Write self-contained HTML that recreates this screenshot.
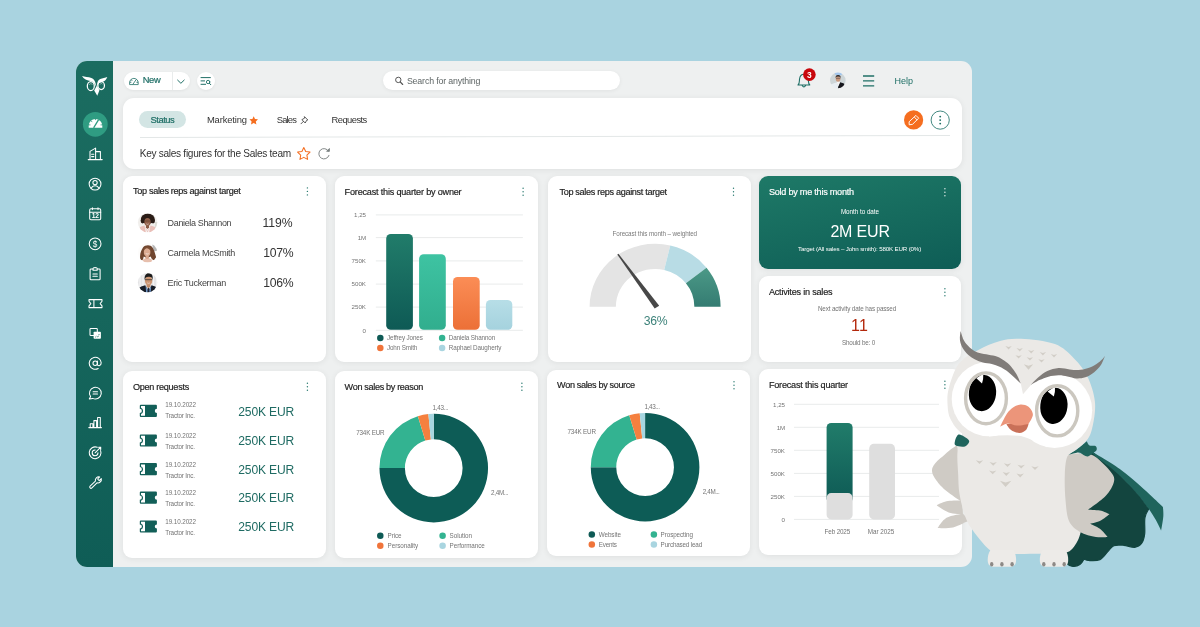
<!DOCTYPE html>
<html>
<head>
<meta charset="utf-8">
<title>Dashboard</title>
<style>
*{box-sizing:border-box;margin:0;padding:0}
html,body{width:1200px;height:627px;overflow:hidden;font-family:"Liberation Sans",sans-serif}
body{background:#a9d3e0;font-family:"Liberation Sans",sans-serif;position:relative;color:#2b2b2b}
.abs{position:absolute}
#app{will-change:transform;position:absolute;left:76px;top:61px;width:895.5px;height:506px;background:#eef0f0;border-radius:11px;overflow:hidden}
#side{position:absolute;left:0;top:0;width:37px;height:506px;background:linear-gradient(180deg,#1b6c60 0%,#16665c 50%,#0f5d56 100%)}
.card{position:absolute;background:#fff;border-radius:9px;box-shadow:0 1px 6px rgba(0,0,0,.07)}
.ct{position:absolute;font-size:9.1px;color:#222;-webkit-text-stroke:.18px currentColor;white-space:nowrap;line-height:1}
.kebab{position:absolute;width:2px;height:8px}
.kebab i{position:absolute;left:0;width:1.4px;height:1.4px;border-radius:50%;background:#2a7a70}
.kebab i:nth-child(1){top:0}.kebab i:nth-child(2){top:3px}.kebab i:nth-child(3){top:6px}
.t{position:absolute;white-space:nowrap;line-height:1}
</style>
</head>
<body>
<div id="app">
  <div id="side"></div>

  <!-- top bar -->
  <div id="topbar">
    <div class="abs" style="left:47.5px;top:10.8px;width:66.5px;height:18.7px;background:#fff;border-radius:9.5px;box-shadow:0 1px 3px rgba(0,0,0,.06)"></div>
    <div class="abs" style="left:95.6px;top:10.8px;width:1px;height:18.7px;background:#e9ecec"></div>
    <div class="t" id="tnew" style="left:66.75px;top:15.31px;font-size:9.3px;-webkit-text-stroke:.2px #1f6f66;color:#1f6f66;letter-spacing:-0.37px">New</div>
    <div class="abs" style="left:121px;top:11px;width:18.2px;height:18.2px;background:#fff;border-radius:50%;box-shadow:0 1px 3px rgba(0,0,0,.06)"></div>
    <div class="abs" style="left:306.7px;top:9.9px;width:237.3px;height:19.1px;background:#fff;border-radius:10px;box-shadow:0 1px 4px rgba(0,0,0,.06)"></div>
    <div class="t" id="tsearch" style="left:330.91px;top:15.71px;font-size:8.8px;color:#5f6666;letter-spacing:-0.15px">Search for anything</div>
    <div class="t" id="thelp" style="left:818.61px;top:16.21px;font-size:9px;color:#1f6f66;letter-spacing:-0.03px">Help</div>
  </div>

  <!-- header card : page (123,97.5)-(962,168) -->
  <div class="card" id="hdr" style="left:47px;top:36.5px;width:839px;height:71px;border-radius:11px">
    <div class="abs" style="left:15.8px;top:13.8px;width:47.6px;height:17.1px;border-radius:9px;background:#d3e5e4"></div>
    <div class="t" id="tstatus" style="-webkit-text-stroke:.2px #1f6f66;left:27.61px;top:17.61px;font-size:9.4px;color:#1f6f66;letter-spacing:-0.5px">Status</div>
    <div class="t" id="tmkt" style="left:83.91px;top:17.61px;font-size:9.4px;color:#333;letter-spacing:-0.13px">Marketing</div>
    <div class="t" id="tsales" style="left:153.71px;top:17.61px;font-size:9.4px;color:#333;letter-spacing:-0.83px">Sales</div>
    <div class="t" id="treq" style="left:208.5px;top:17.61px;font-size:9.4px;color:#333;letter-spacing:-0.55px">Requests</div>
    <div class="abs" style="left:17px;top:39.4px;width:810px;height:1px;background:#e3e7e7;transform-origin:0 0;transform:rotate(-.134deg)"></div>
    <div class="t" id="tkey" style="left:16.71px;top:51.66px;font-size:10.1px;color:#333;letter-spacing:-0.29px">Key sales figures for the Sales team</div>
  </div>

  <!-- row 1 -->
  <div class="card" id="c1" style="left:47px;top:114.5px;width:203px;height:186.5px"><div class="ct" id="tc1" style="left:9.91px;top:11.5px;letter-spacing:-0.3px">Top sales reps against target</div></div>
  <div class="card" id="c2" style="left:258.5px;top:114.5px;width:203.5px;height:186.5px"><div class="ct" id="tc2" style="left:10.11px;top:12px;letter-spacing:-0.2px">Forecast this quarter by owner</div></div>
  <div class="card" id="c3" style="left:471.5px;top:114.5px;width:203px;height:186.5px"><div class="ct" id="tc3" style="left:11.91px;top:12px;letter-spacing:-0.31px">Top sales reps against target</div></div>
  <div class="card" id="c4" style="left:683px;top:114.5px;width:202.2px;height:93px;background:linear-gradient(168deg,#1e7967 0%,#166b5e 50%,#0e5d56 100%)"><div class="ct" id="tc4" style="color:#fff;left:9.91px;top:12.91px;letter-spacing:-0.24px">Sold by me this month</div></div>
  <div class="card" id="c5" style="left:683px;top:215px;width:202.2px;height:86px"><div class="ct" id="tc5" style="left:9.91px;top:12.41px;letter-spacing:-0.21px">Activites in sales</div></div>

  <!-- row 2 -->
  <div class="card" id="c6" style="left:47px;top:310px;width:203px;height:186.5px"><div class="ct" id="tc6" style="left:9.91px;top:12.41px;letter-spacing:-0.28px">Open requests</div></div>
  <div class="card" id="c7" style="left:258.5px;top:310px;width:203.5px;height:186.5px"><div class="ct" id="tc7" style="left:10.11px;top:11.5px;letter-spacing:-0.34px">Won sales by reason</div></div>
  <div class="card" id="c8" style="left:471px;top:308.5px;width:203.4px;height:186.3px"><div class="ct" id="tc8" style="left:10.11px;top:11.91px;letter-spacing:-0.35px">Won sales by source</div></div>
  <div class="card" id="c9" style="left:683px;top:307.7px;width:202.5px;height:186.7px"><div class="ct" id="tc9" style="left:9.91px;top:11.83px;letter-spacing:-0.21px">Forecast this quarter</div></div>
</div>

<!-- charts (page coords) -->
<svg id="charts" class="abs" style="left:0;top:0" width="1200" height="627" viewBox="0 0 1200 627" fill="none">
<defs>
<linearGradient id="gd" x1="0" y1="0" x2="0" y2="1"><stop offset="0" stop-color="#217c6a"/><stop offset="1" stop-color="#0e5a55"/></linearGradient>
<linearGradient id="gt" x1="0" y1="0" x2="0" y2="1"><stop offset="0" stop-color="#3ec3a2"/><stop offset="1" stop-color="#31ae8e"/></linearGradient>
<linearGradient id="go" x1="0" y1="0" x2="0" y2="1"><stop offset="0" stop-color="#fb8d56"/><stop offset="1" stop-color="#ec7037"/></linearGradient>
<linearGradient id="gb" x1="0" y1="0" x2="0" y2="1"><stop offset="0" stop-color="#b7dee7"/><stop offset="1" stop-color="#a5d2de"/></linearGradient>
<linearGradient id="gg" x1="0" y1="0" x2="0" y2="1"><stop offset="0" stop-color="#4c9987"/><stop offset="1" stop-color="#347c72"/></linearGradient>
</defs>
<g stroke="#e9ebeb" stroke-width="1"><path d="M375.8 214.9 H522.9"/><path d="M375.8 237.6 H522.9"/><path d="M375.8 260.9 H522.9"/><path d="M375.8 284.1 H522.9"/><path d="M375.8 307.1 H522.9"/><path d="M375.8 330.3 H522.9"/></g>
<rect x="386.2" y="233.9" width="26.7" height="95.9" rx="4.6" fill="url(#gd)"/><rect x="419.1" y="254.2" width="26.7" height="75.6" rx="4.6" fill="url(#gt)"/><rect x="453.0" y="276.9" width="26.7" height="52.9" rx="4.6" fill="url(#go)"/><rect x="485.9" y="299.9" width="26.4" height="29.9" rx="4.6" fill="url(#gb)"/>
<circle cx="380.3" cy="338.0" r="3.25" fill="#0e5a55"/><circle cx="380.3" cy="347.9" r="3.25" fill="#f0743a"/><circle cx="442.1" cy="338.0" r="3.25" fill="#33b391"/><circle cx="442.1" cy="347.9" r="3.25" fill="#a9d5e0"/>
<path d="M589.60 306.70 A65.50 63.01 0 0 1 670.28 245.40 L664.20 269.97 A39.25 37.76 0 0 0 615.85 306.70 Z" fill="#e4e4e4"/><path d="M670.28 245.40 A65.50 63.01 0 0 1 706.50 267.65 L685.90 283.30 A39.25 37.76 0 0 0 664.20 269.97 Z" fill="#b8dce5"/><path d="M706.50 267.65 A65.50 63.01 0 0 1 720.60 306.70 L694.35 306.70 A39.25 37.76 0 0 0 685.90 283.30 Z" fill="url(#gg)"/><path d="M617.3 254.4 L618.4 253.7 L659.2 305.8 L654.7 308.6 Z" fill="#484848"/>
<path d="M140.80 404.80 H155.90 a1 1 0 0 1 1 1 V408.80 a2.1 2.1 0 0 0 0 4.20 V416.00 a1 1 0 0 1 -1 1 H140.80 a1 1 0 0 1 -1 -1 V413.00 a2.1 2.1 0 0 0 0 -4.20 V405.80 a1 1 0 0 1 1 -1Z" fill="#125f58"/><path d="M141.00 406.10 H145.00 V415.70 H141.00 V413.97 A3.3 3.3 0 0 0 141.00 407.83Z" fill="#fff"/><path d="M140.80 434.40 H155.90 a1 1 0 0 1 1 1 V438.40 a2.1 2.1 0 0 0 0 4.20 V445.60 a1 1 0 0 1 -1 1 H140.80 a1 1 0 0 1 -1 -1 V442.60 a2.1 2.1 0 0 0 0 -4.20 V435.40 a1 1 0 0 1 1 -1Z" fill="#125f58"/><path d="M141.00 435.70 H145.00 V445.30 H141.00 V443.57 A3.3 3.3 0 0 0 141.00 437.43Z" fill="#fff"/><path d="M140.80 463.10 H155.90 a1 1 0 0 1 1 1 V467.10 a2.1 2.1 0 0 0 0 4.20 V474.30 a1 1 0 0 1 -1 1 H140.80 a1 1 0 0 1 -1 -1 V471.30 a2.1 2.1 0 0 0 0 -4.20 V464.10 a1 1 0 0 1 1 -1Z" fill="#125f58"/><path d="M141.00 464.40 H145.00 V474.00 H141.00 V472.27 A3.3 3.3 0 0 0 141.00 466.13Z" fill="#fff"/><path d="M140.80 491.60 H155.90 a1 1 0 0 1 1 1 V495.60 a2.1 2.1 0 0 0 0 4.20 V502.80 a1 1 0 0 1 -1 1 H140.80 a1 1 0 0 1 -1 -1 V499.80 a2.1 2.1 0 0 0 0 -4.20 V492.60 a1 1 0 0 1 1 -1Z" fill="#125f58"/><path d="M141.00 492.90 H145.00 V502.50 H141.00 V500.77 A3.3 3.3 0 0 0 141.00 494.63Z" fill="#fff"/><path d="M140.80 520.40 H155.90 a1 1 0 0 1 1 1 V524.40 a2.1 2.1 0 0 0 0 4.20 V531.60 a1 1 0 0 1 -1 1 H140.80 a1 1 0 0 1 -1 -1 V528.60 a2.1 2.1 0 0 0 0 -4.20 V521.40 a1 1 0 0 1 1 -1Z" fill="#125f58"/><path d="M141.00 521.70 H145.00 V531.30 H141.00 V529.57 A3.3 3.3 0 0 0 141.00 523.43Z" fill="#fff"/>
<path d="M433.75 413.80 A54.30 54.30 0 1 1 379.45 468.10 L404.90 468.10 A28.85 28.85 0 1 0 433.75 439.25 Z" fill="#0d5c56"/><path d="M379.45 468.10 A54.30 54.30 0 0 1 417.87 416.17 L425.32 440.51 A28.85 28.85 0 0 0 404.90 468.10 Z" fill="#33b391"/><path d="M417.87 416.17 A54.30 54.30 0 0 1 428.36 414.07 L430.88 439.39 A28.85 28.85 0 0 0 425.32 440.51 Z" fill="#f5803f"/><path d="M428.36 414.07 A54.30 54.30 0 0 1 433.75 413.80 L433.75 439.25 A28.85 28.85 0 0 0 430.88 439.39 Z" fill="#a6d6e0"/>
<circle cx="380.3" cy="535.7" r="3.25" fill="#0e5a55"/><circle cx="380.3" cy="545.7" r="3.25" fill="#f0743a"/><circle cx="442.6" cy="535.7" r="3.25" fill="#33b391"/><circle cx="442.6" cy="545.7" r="3.25" fill="#a9d5e0"/>
<path d="M645.10 412.90 A54.30 54.30 0 1 1 590.80 467.20 L616.25 467.20 A28.85 28.85 0 1 0 645.10 438.35 Z" fill="#0d5c56"/><path d="M590.80 467.20 A54.30 54.30 0 0 1 629.22 415.27 L636.67 439.61 A28.85 28.85 0 0 0 616.25 467.20 Z" fill="#33b391"/><path d="M629.22 415.27 A54.30 54.30 0 0 1 639.71 413.17 L642.23 438.49 A28.85 28.85 0 0 0 636.67 439.61 Z" fill="#f5803f"/><path d="M639.71 413.17 A54.30 54.30 0 0 1 645.10 412.90 L645.10 438.35 A28.85 28.85 0 0 0 642.23 438.49 Z" fill="#a6d6e0"/>
<circle cx="591.8" cy="534.5" r="3.25" fill="#0e5a55"/><circle cx="591.8" cy="544.5" r="3.25" fill="#f0743a"/><circle cx="653.9" cy="534.5" r="3.25" fill="#33b391"/><circle cx="653.9" cy="544.5" r="3.25" fill="#a9d5e0"/>
<g stroke="#e9ebeb" stroke-width="1"><path d="M794 404.3 H939"/><path d="M794 427.3 H939"/><path d="M794 450.3 H939"/><path d="M794 473.4 H939"/><path d="M794 496.4 H939"/><path d="M794 519.4 H939"/></g>
<rect x="826.6" y="423" width="26" height="80" rx="4.6" fill="url(#gd)"/><rect x="826.6" y="493.1" width="26" height="26.3" rx="4.6" fill="#dedede"/><rect x="869.2" y="443.8" width="25.8" height="75.6" rx="4.6" fill="#dedede"/>
<g id="avatars">
<defs>
<clipPath id="cp1"><circle cx="147.6" cy="222.6" r="9.7"/></clipPath>
<clipPath id="cp2"><circle cx="147.6" cy="252.6" r="9.7"/></clipPath>
<clipPath id="cp3"><circle cx="147.6" cy="282.6" r="9.7"/></clipPath>
<filter id="soft" x="-10%" y="-10%" width="120%" height="120%"><feGaussianBlur stdDeviation=".35"/></filter>
</defs>
<g clip-path="url(#cp1)"><g filter="url(#soft)">
<rect x="137" y="212" width="22" height="22" fill="#f1efec"/>
<path d="M155 222 h5 v8 h-5z" fill="#dcdcd6"/>
<path d="M138 234 V229 Q140 226.2 144.5 225.6 L147.5 231 L150.5 225.6 Q155 226.2 157.5 229 V234Z" fill="#e9bfb8"/>
<path d="M144.6 226 L147.5 232.6 L150.4 226 L149 233 H146Z" fill="#f6f1f0"/>
<path d="M146 224 h3 v3.4 l-1.5 1.6 l-1.5 -1.6z" fill="#8a5a45"/>
<ellipse cx="147.8" cy="218.9" rx="6.9" ry="5.1" fill="#2a1c17"/>
<ellipse cx="142.6" cy="220.8" rx="2" ry="2.6" fill="#2a1c17"/><ellipse cx="153" cy="220.8" rx="2" ry="2.6" fill="#2a1c17"/>
<ellipse cx="147.5" cy="221.9" rx="3.1" ry="3.9" fill="#92614b"/>
<path d="M145.2 221 h4.6" stroke="#4a2f26" stroke-width=".5"/>
<path d="M146.3 223.9 q1.2 .9 2.4 0" stroke="#f1e4e0" stroke-width=".6" fill="none"/>
</g></g>
<g clip-path="url(#cp2)"><g filter="url(#soft)">
<rect x="137" y="242" width="22" height="22" fill="#fdfcfb"/>
<path d="M152.2 244.6 l2.8 -.6 l1.6 3.4 l1.6 3.2 l-4.2 .6 l-1 -3z" fill="#b7b7b7"/>
<ellipse cx="147.4" cy="262.5" rx="5.2" ry="4.6" fill="#e6bfad"/>
<path d="M140.3 259.4 C139.3 254 141.5 250 143 247.6 C145 244.7 150.6 244.5 152.5 247.4 C154.3 250.2 154.9 253 155.9 256.5 C156.5 258.6 155.2 260.8 153.2 260 C151.6 259.2 151.4 257.6 150.6 256.4 L147.2 258.2 L143.8 256.4 C143.2 258 143.2 259.8 142 260.4 C141.2 260.8 140.5 260.4 140.3 259.4Z" fill="#6f452e"/>
<path d="M145.6 255 h3.2 v3.4 q-1.6 1.2 -3.2 0z" fill="#d9a78f"/>
<ellipse cx="147.1" cy="251.9" rx="3.3" ry="4.4" fill="#dcab92"/>
<path d="M143.7 251.4 C143.4 248 145 246.3 147.6 246.5 C149.8 246.7 151 248.6 150.7 251.4 C149.9 249.4 148.5 248.5 146.7 248.3 C145.2 248.6 144.2 249.8 143.7 251.4Z" fill="#7a4d33"/>
<path d="M145.8 253.6 q1.4 1 2.8 0" stroke="#fff" stroke-width=".6" fill="none"/>
</g></g>
<g clip-path="url(#cp3)"><g filter="url(#soft)">
<rect x="137" y="272" width="22" height="22" fill="#e4e4e6"/>
<path d="M140 272 v22 M143 272 v22 M153.5 272 v22 M156.5 272 v22" stroke="#f3f3f4" stroke-width="1.2"/>
<path d="M138 294 V288.6 Q141 286 145.2 285.2 L148.4 291 L151.6 285.2 Q155.5 286 158 288.6 V294Z" fill="#151b26"/>
<path d="M145.6 285.4 L148.4 291.6 L151.2 285.4 L150.6 294 H146.2Z" fill="#7196c6"/>
<path d="M147.8 287.6 h1.3 l.5 6.4 h-2.3z" fill="#1b2230"/>
<path d="M146.6 283.6 h3.8 v2.6 l-1.9 2 l-1.9 -2z" fill="#c18b68"/>
<ellipse cx="148.6" cy="280.7" rx="3.7" ry="4.7" fill="#cc9572"/>
<path d="M144.7 280 C144.2 275.6 146 273.3 148.8 273.3 C151.8 273.3 153.2 275.8 152.6 280 C152.2 277.6 151.2 276.6 148.8 276.7 C146.2 276.6 145.2 277.8 144.7 280Z" fill="#1d1b1a"/>
<path d="M145 279.7 h7.2" stroke="#2a2422" stroke-width=".7"/>
<path d="M147.2 282.9 q1.4 1 2.8 0" stroke="#f3e6df" stroke-width=".6" fill="none"/>
</g></g>
</g>
</svg>

<!-- card texts (page coords) -->
<div id="txt" class="abs" style="left:0;top:0;width:1200px;height:627px;will-change:transform">
  <div class="t" id="n1" style="left:167.61px;top:218.91px;font-size:9px;color:#444;letter-spacing:-0.36px">Daniela Shannon</div>
  <div class="t" id="n2" style="left:167.61px;top:248.81px;font-size:9px;color:#444;letter-spacing:-0.27px">Carmela McSmith</div>
  <div class="t" id="n3" style="left:167.61px;top:278.61px;font-size:9px;color:#444;letter-spacing:-0.3px">Eric Tuckerman</div>
  <div class="t" id="p1" style="left:262.61px;top:217.1px;font-size:12.2px;color:#333;letter-spacing:-0.12px">119%</div>
  <div class="t" id="p2" style="left:263.3px;top:247.01px;font-size:12.2px;color:#333;letter-spacing:-0.29px">107%</div>
  <div class="t" id="p3" style="left:263.3px;top:276.8px;font-size:12.2px;color:#333;letter-spacing:-0.29px">106%</div>
  <div class="t" id="a2_0" style="left:354px;top:212.11px;font-size:6.2px;color:#747474;letter-spacing:-0.01px">1,25</div>
  <div class="t" id="a2_1" style="left:357.71px;top:234.8px;font-size:6.2px;color:#747474;letter-spacing:-0.15px">1M</div>
  <div class="t" id="a2_2" style="left:351.5px;top:258.11px;font-size:6.2px;color:#747474;letter-spacing:0.01px">750K</div>
  <div class="t" id="a2_3" style="left:351.5px;top:281.3px;font-size:6.2px;color:#747474;letter-spacing:0.01px">500K</div>
  <div class="t" id="a2_4" style="left:351.5px;top:304.3px;font-size:6.2px;color:#747474;letter-spacing:0.01px">250K</div>
  <div class="t" id="a2_5" style="left:362.61px;top:327.5px;font-size:6.2px;color:#747474;letter-spacing:-0.05px">0</div>
  <div class="t" id="l2a" style="left:387px;top:335.21px;font-size:6.3px;color:#747474;letter-spacing:-0.12px">Jeffrey Jones</div>
  <div class="t" id="l2b" style="left:387px;top:345.11px;font-size:6.3px;color:#747474;letter-spacing:-0.14px">John Smith</div>
  <div class="t" id="l2c" style="left:448.8px;top:335.21px;font-size:6.3px;color:#747474;letter-spacing:-0.14px">Daniela Shannon</div>
  <div class="t" id="l2d" style="left:448.8px;top:345.11px;font-size:6.3px;color:#747474;letter-spacing:-0.11px">Raphael Daugherty</div>
  <div class="t" id="g1" style="left:612.5px;top:230.71px;font-size:6.3px;color:#7a7a7a;letter-spacing:-0.1px">Forecast this month – weighted</div>
  <div class="t" id="g2" style="left:643.71px;top:314.91px;font-size:12.2px;color:#3d827a;letter-spacing:-0.3px">36%</div>
  <div class="t" id="s1" style="left:840.91px;top:208.5px;font-size:6.3px;color:#fff;letter-spacing:-0.03px">Month to date</div>
  <div class="t" id="s2" style="left:830.41px;top:223.91px;font-size:16px;color:#fff;letter-spacing:-0.18px">2M EUR</div>
  <div class="t" id="s3" style="left:798.11px;top:246.2px;font-size:6.2px;color:#fff;letter-spacing:-0.16px">Target (All sales – John smith): 580K EUR (0%)</div>
  <div class="t" id="v1" style="left:817.91px;top:305.5px;font-size:6.3px;color:#747474;letter-spacing:-0.13px">Next activity date has passed</div>
  <div class="t" id="v2" style="left:851px;top:318.1px;font-size:16px;color:#b3280c;letter-spacing:0.25px">11</div>
  <div class="t" id="v3" style="left:841.91px;top:339.61px;font-size:6.3px;color:#747474;letter-spacing:-0.19px">Should be: 0</div>
  <div class="t" id="rd0" style="left:165.21px;top:402.11px;font-size:6.3px;color:#747474;letter-spacing:-0.08px">19.10.2022</div>
  <div class="t" id="rt0" style="left:165.21px;top:412.71px;font-size:6.3px;color:#747474;letter-spacing:-0.17px">Tractor Inc.</div>
  <div class="t" id="ra0" style="left:238.3px;top:405.5px;font-size:12.1px;color:#1f6b63;letter-spacing:-0.17px">250K EUR</div>
  <div class="t" id="rd1" style="left:165.21px;top:432.91px;font-size:6.3px;color:#747474;letter-spacing:-0.08px">19.10.2022</div>
  <div class="t" id="rt1" style="left:165.21px;top:443.8px;font-size:6.3px;color:#747474;letter-spacing:-0.17px">Tractor Inc.</div>
  <div class="t" id="ra1" style="left:238.3px;top:435px;font-size:12.1px;color:#1f6b63;letter-spacing:-0.17px">250K EUR</div>
  <div class="t" id="rd2" style="left:165.21px;top:461.61px;font-size:6.3px;color:#747474;letter-spacing:-0.08px">19.10.2022</div>
  <div class="t" id="rt2" style="left:165.21px;top:472.5px;font-size:6.3px;color:#747474;letter-spacing:-0.17px">Tractor Inc.</div>
  <div class="t" id="ra2" style="left:238.3px;top:463.61px;font-size:12.1px;color:#1f6b63;letter-spacing:-0.17px">250K EUR</div>
  <div class="t" id="rd3" style="left:165.21px;top:490.3px;font-size:6.3px;color:#747474;letter-spacing:-0.08px">19.10.2022</div>
  <div class="t" id="rt3" style="left:165.21px;top:501.11px;font-size:6.3px;color:#747474;letter-spacing:-0.17px">Tractor Inc.</div>
  <div class="t" id="ra3" style="left:238.3px;top:492.31px;font-size:12.1px;color:#1f6b63;letter-spacing:-0.17px">250K EUR</div>
  <div class="t" id="rd4" style="left:165.21px;top:518.91px;font-size:6.3px;color:#747474;letter-spacing:-0.08px">19.10.2022</div>
  <div class="t" id="rt4" style="left:165.21px;top:529.8px;font-size:6.3px;color:#747474;letter-spacing:-0.17px">Tractor Inc.</div>
  <div class="t" id="ra4" style="left:238.3px;top:520.81px;font-size:12.1px;color:#1f6b63;letter-spacing:-0.17px">250K EUR</div>
  <div class="t" id="d7a" style="left:432.61px;top:405px;font-size:6.3px;color:#747474;letter-spacing:-0.29px">1,43...</div>
  <div class="t" id="d7b" style="left:356.3px;top:430px;font-size:6.3px;color:#747474;letter-spacing:-0.22px">734K EUR</div>
  <div class="t" id="d7c" style="left:491px;top:490.11px;font-size:6.3px;color:#747474;letter-spacing:-0.29px">2,4M...</div>
  <div class="t" id="l7a" style="left:387.61px;top:532.91px;font-size:6.3px;color:#747474;letter-spacing:-0.13px">Price</div>
  <div class="t" id="l7b" style="left:387.61px;top:542.91px;font-size:6.3px;color:#747474;letter-spacing:-0.06px">Personality</div>
  <div class="t" id="l7c" style="left:449.61px;top:532.91px;font-size:6.3px;color:#747474;letter-spacing:-0.06px">Solution</div>
  <div class="t" id="l7d" style="left:449.61px;top:542.91px;font-size:6.3px;color:#747474;letter-spacing:-0.09px">Performance</div>
  <div class="t" id="d8a" style="left:644.41px;top:403.5px;font-size:6.3px;color:#747474;letter-spacing:-0.33px">1,43...</div>
  <div class="t" id="d8b" style="left:567.5px;top:428.61px;font-size:6.3px;color:#747474;letter-spacing:-0.18px">734K EUR</div>
  <div class="t" id="d8c" style="left:702.71px;top:488.61px;font-size:6.3px;color:#747474;letter-spacing:-0.35px">2,4M...</div>
  <div class="t" id="l8a" style="left:598.8px;top:531.71px;font-size:6.3px;color:#747474;letter-spacing:-0.09px">Website</div>
  <div class="t" id="l8b" style="left:598.8px;top:541.71px;font-size:6.3px;color:#747474;letter-spacing:-0.21px">Events</div>
  <div class="t" id="l8c" style="left:660.61px;top:531.71px;font-size:6.3px;color:#747474;letter-spacing:-0.09px">Prospecting</div>
  <div class="t" id="l8d" style="left:660.61px;top:541.71px;font-size:6.3px;color:#747474;letter-spacing:-0.17px">Purchased lead</div>
  <div class="t" id="a9_0" style="left:773px;top:401.5px;font-size:6.2px;color:#747474;letter-spacing:-0.01px">1,25</div>
  <div class="t" id="a9_1" style="left:776.71px;top:424.5px;font-size:6.2px;color:#747474;letter-spacing:-0.15px">1M</div>
  <div class="t" id="a9_2" style="left:770.5px;top:447.5px;font-size:6.2px;color:#747474;letter-spacing:0.01px">750K</div>
  <div class="t" id="a9_3" style="left:770.5px;top:470.61px;font-size:6.2px;color:#747474;letter-spacing:0.01px">500K</div>
  <div class="t" id="a9_4" style="left:770.5px;top:493.61px;font-size:6.2px;color:#747474;letter-spacing:0.01px">250K</div>
  <div class="t" id="a9_5" style="left:781.61px;top:516.61px;font-size:6.2px;color:#747474;letter-spacing:-0.05px">0</div>
  <div class="t" id="x9a" style="left:824.61px;top:528.5px;font-size:6.3px;color:#747474;letter-spacing:-0.14px">Feb 2025</div>
  <div class="t" id="x9b" style="left:867.71px;top:528.5px;font-size:6.3px;color:#747474;letter-spacing:-0.01px">Mar 2025</div>
</div>

<!-- icon overlay in page coordinates -->
<svg id="ico" class="abs" style="left:0;top:0;pointer-events:none" width="1200" height="627" viewBox="0 0 1200 627" fill="none">
  <!-- SIDEBAR -->
  <g id="logo" fill="#fff">
    <path d="M82 76 C84.4 76.9 88.6 76.9 91.4 77.9 C93.6 78.7 95 80.4 95.8 83.9 L95.5 86.4 C95 84.4 94.2 83 92.6 81.8 C90.6 80.6 88 81.2 85.6 79.6 C84 78.6 82.8 77.4 82 76Z"/>
    <path d="M107.3 77 C105.4 77.9 102.4 78.2 100.3 79.1 C98.4 79.9 97.3 81.6 96.8 85.7 L97.2 86.5 C97.5 85 98 83.9 99.2 83 C100.6 82 102.4 82.3 104 81.3 C105.6 80.3 106.6 78.8 107.3 77Z"/>
    <path d="M94.2 90.5 L96.9 85.4 L99.4 90.3 L97.3 95.7Z"/>
  </g>
  <g stroke="#fff" stroke-width="1.25">
    <ellipse cx="90.8" cy="86" rx="3.5" ry="4.5"/>
    <ellipse cx="101.2" cy="85.6" rx="3.25" ry="3.9"/>
  </g>
  <path d="M89.4 85 a1.5 1.7 0 0 1 2.9 -.2 M100 84.6 a1.4 1.6 0 0 1 2.6 -.2" stroke="#fff" stroke-width=".55" opacity=".75"/>

  <circle cx="95.3" cy="124.3" r="12.4" fill="#2f9c82"/>
  <!-- gauge (filled) -->
  <path d="M88.7 127.8 V125.7 A6.8 6.8 0 0 1 102.3 125.7 V127.8Z" fill="#fff"/>
  <g stroke="#2f9c82" stroke-width="1">
    <path d="M93.6 127.9 L98.6 119.6" stroke-width="1.3"/>
    <path d="M88.5 124.9 h2 M102.5 124.9 h-2 M91.2 120.9 l1 1.2 M95.5 118.5 v1.6" stroke-width=".8"/>
  </g>

  <g stroke="#fff" stroke-width="1.05" stroke-linecap="round" stroke-linejoin="round">
    <!-- building -->
    <path d="M88.2 159.6 H102.2 M90 159.4 V151.4 L95.6 148.1 V159.4 M95.8 151.6 H100.4 V159.4 M91.6 154.3 H93.8 M91.6 156.6 H93.8"/>
    <!-- user -->
    <circle cx="95.05" cy="184.1" r="5.9"/>
    <circle cx="95.05" cy="182.6" r="2.15"/>
    <path d="M91.2 188.3 C92 186.4 93.4 185.7 95.05 185.7 C96.7 185.7 98.1 186.4 98.9 188.3"/>
    <!-- calendar -->
    <rect x="89.7" y="208.8" width="11" height="10.9" rx="1.2"/>
    <path d="M89.7 212.2 H100.7 M92.4 207.7 V209.6 M98 207.7 V209.6"/>
    <!-- dollar -->
    <circle cx="95.1" cy="243.8" r="5.9"/>
    <!-- clipboard -->
    <path d="M93 268.9 H91 Q90.1 268.9 90.1 269.8 V278.9 Q90.1 279.8 91 279.8 H99.2 Q100.1 279.8 100.1 278.9 V269.8 Q100.1 268.9 99.2 268.9 H97.2"/>
    <path d="M93 270.3 V268.6 Q93 267.6 95.1 267.4 Q97.2 267.6 97.2 268.6 V270.3Z"/>
    <path d="M92.9 273.9 H97.3 M92.9 276.2 H97.3"/>
    <!-- ticket -->
    <path d="M89 299.6 H102 V301.3 L100.2 303.6 L102 305.9 V307.6 H89 V305.9 L90.8 303.6 L89 301.3Z M93.9 299.8 V307.4"/>
    <!-- windows -->
    <rect x="90" y="328.5" width="7.3" height="7" rx=".8"/>
    <!-- at -->
    <circle cx="95.2" cy="363.2" r="2.2"/>
    <path d="M97.4 361 V364.3 Q97.5 365.9 99.2 365.7 Q101.3 365.2 101.2 362.8 A6 6 0 1 0 98.2 368.5"/>
    <!-- chat -->
    <path d="M90.6 396.6 A5.9 5.9 0 1 1 92.7 398.4 L89.3 399 Z"/>
    <path d="M93.1 391.7 H97.5 M93.1 393.9 H97.5"/>
    <!-- bars -->
    <path d="M88.8 427.6 H101.4 M90.2 427.4 V423.7 H92.9 V427.4 M93.9 427.4 V420.6 H96.6 V427.4 M97.6 427.4 V417.5 H100.3 V427.4"/>
    <!-- target -->
    <path d="M100.6 450.6 A5.9 5.9 0 1 1 97.3 447.3"/>
    <path d="M98 452.8 A2.9 2.9 0 1 1 95 449.9"/>
    <path d="M95.1 452.8 L100.7 447.2 M98.6 447.3 h2.1 v2.1" />
    <!-- wrench -->
    <path d="M90.1 486.1 L95.4 481.2 A3.6 3.6 0 0 1 99.7 476.9 L97.6 479 L99.2 480.6 L101.3 478.5 A3.6 3.6 0 0 1 97 482.8 L91.9 487.9 A1.27 1.27 0 0 1 90.1 486.1Z"/>
  </g>
  <rect x="93.6" y="331.7" width="7.3" height="7" rx=".8" fill="#fff"/>
  <path d="M95.3 337.2 l1.3 -1 l1.3 .9 l1.4 -3.3" stroke="#1a685e" stroke-width=".9" stroke-dasharray="1 .8"/>
  <text x="95.15" y="218.4" font-family="Liberation Sans, sans-serif" font-size="6.7" font-weight="bold" fill="#fff" text-anchor="middle" letter-spacing="-.2">12</text>
  <text x="95.1" y="246.7" font-family="Liberation Sans, sans-serif" font-size="8.2" fill="#fff" text-anchor="middle">$</text>

  <!-- TOPBAR -->
  <g stroke="#1f6f66" stroke-width=".9" stroke-linecap="round" stroke-linejoin="round">
    <!-- small gauge in New -->
    <path d="M129.6 84.2 V82.7 A4.3 4.3 0 0 1 138.2 82.7 V84.2Z M133.1 84 L136 79.8 M130 82.3 h1 M137.8 82.3 h-1 M131.4 79.9 l.6 .7" stroke-width=".8"/>
    <!-- chevron -->
    <path d="M177.6 80.1 L180.9 83.3 L184.2 80.1" stroke-width="1"/>
    <!-- filter/search list -->
    <path d="M201 77.6 H210.4 M201 80.9 H204.6 M201 84.3 H205.6" stroke-width="1"/>
    <circle cx="208.1" cy="82" r="1.7" stroke-width=".9"/>
    <path d="M209.4 83.3 L210.8 84.7" stroke-width="1"/>
    <!-- hamburger -->
    <path d="M863 76 H874.2 M863 80.9 H874.2 M863 85.8 H874.2" stroke-width="1.3" stroke-linecap="butt"/>
    <!-- bell -->
    <path d="M798 85 C799.6 83.8 799.3 81.5 799.5 79.3 C799.9 76 801.6 74.3 803.9 74.3 C806.2 74.3 807.9 76 808.3 79.3 C808.5 81.5 808.2 83.8 809.8 85 Z M802.2 85.4 Q803.9 88.4 805.6 85.4" stroke-width="1.1"/>
  </g>
  <!-- search magnifier -->
  <circle cx="398.3" cy="79.9" r="2.7" stroke="#555" stroke-width="1"/>
  <path d="M400.3 82 L402.7 84.5" stroke="#555" stroke-width="1.1" stroke-linecap="round"/>
  <!-- badge -->
  <circle cx="809.4" cy="74.6" r="6.3" fill="#c8070c"/>
  <text x="809.4" y="77.6" font-family="Liberation Sans, sans-serif" font-size="8.4" font-weight="bold" fill="#fff" text-anchor="middle">3</text>
  <!-- avatar top -->
  <g id="av0">
    <clipPath id="cpa0"><circle cx="837.8" cy="80.4" r="7.8"/></clipPath>
    <g clip-path="url(#cpa0)"><g filter="url(#soft0)">
      <rect x="829" y="72" width="18" height="18" fill="#ced6d8"/>
      <ellipse cx="838.6" cy="73.6" rx="3.8" ry="1.9" fill="#a3c6ec"/>
      <path d="M831 90 V84.5 Q834 82.6 836.6 82.4 L838.4 86 L837.6 90Z" fill="#e8eef3"/>
      <path d="M837.6 90 L838.4 86 L840 82.3 Q843.6 82.8 846 85 V90Z" fill="#15181d"/>
      <path d="M836.6 82.2 L838.4 86.2 L840 82.2 L838.3 81Z" fill="#f4f4f4"/>
      <ellipse cx="838.1" cy="78.7" rx="2.35" ry="3" fill="#c99a80"/>
      <path d="M835.6 78 Q835.3 74.9 838.1 74.9 Q841 74.9 840.6 78 Q840.2 76.5 838.1 76.6 Q836 76.5 835.6 78Z" fill="#2a2624"/>
      <path d="M836 78.3 h4.3" stroke="#3a3330" stroke-width=".5"/>
    </g></g>
  </g>
  <defs><filter id="soft0" x="-10%" y="-10%" width="120%" height="120%"><feGaussianBlur stdDeviation=".3"/></filter></defs>

  <!-- card kebabs -->
  <g id="kebabs"><circle cx="307.4" cy="187.9" r=".7" fill="#2a7a70"/><circle cx="307.4" cy="191.4" r=".7" fill="#2a7a70"/><circle cx="307.4" cy="194.9" r=".7" fill="#2a7a70"/><circle cx="523.1" cy="188.2" r=".7" fill="#2a7a70"/><circle cx="523.1" cy="191.7" r=".7" fill="#2a7a70"/><circle cx="523.1" cy="195.2" r=".7" fill="#2a7a70"/><circle cx="733.5" cy="188.2" r=".7" fill="#2a7a70"/><circle cx="733.5" cy="191.7" r=".7" fill="#2a7a70"/><circle cx="733.5" cy="195.2" r=".7" fill="#2a7a70"/><circle cx="944.9" cy="188.7" r=".7" fill="#e8f1ef"/><circle cx="944.9" cy="192.2" r=".7" fill="#e8f1ef"/><circle cx="944.9" cy="195.7" r=".7" fill="#e8f1ef"/><circle cx="944.9" cy="288.7" r=".7" fill="#2a7a70"/><circle cx="944.9" cy="292.2" r=".7" fill="#2a7a70"/><circle cx="944.9" cy="295.7" r=".7" fill="#2a7a70"/><circle cx="307.4" cy="383.2" r=".7" fill="#2a7a70"/><circle cx="307.4" cy="386.7" r=".7" fill="#2a7a70"/><circle cx="307.4" cy="390.2" r=".7" fill="#2a7a70"/><circle cx="521.9" cy="383.2" r=".7" fill="#2a7a70"/><circle cx="521.9" cy="386.7" r=".7" fill="#2a7a70"/><circle cx="521.9" cy="390.2" r=".7" fill="#2a7a70"/><circle cx="734.0" cy="381.7" r=".7" fill="#2a7a70"/><circle cx="734.0" cy="385.2" r=".7" fill="#2a7a70"/><circle cx="734.0" cy="388.7" r=".7" fill="#2a7a70"/><circle cx="944.9" cy="381.2" r=".7" fill="#2a7a70"/><circle cx="944.9" cy="384.7" r=".7" fill="#2a7a70"/><circle cx="944.9" cy="388.2" r=".7" fill="#2a7a70"/></g>
  <!-- HEADER CARD icons -->
  <circle cx="913.6" cy="119.9" r="9.6" fill="#f56e20"/>
  <path d="M915.9 115.4 L918.7 118.2 L912.5 124.3 L909.2 124.8 L909.1 121.8 Z M914.2 117 L917.1 119.9" stroke="#fff" stroke-width=".95" stroke-linejoin="round"/>
  <circle cx="940.2" cy="120.1" r="9.1" fill="#fff" stroke="#2c7b72" stroke-width=".9"/>
  <g fill="#1f6f66"><circle cx="940.2" cy="116.6" r=".95"/><circle cx="940.2" cy="120.1" r=".95"/><circle cx="940.2" cy="123.6" r=".95"/></g>
  <!-- marketing star (filled) -->
  <path id="star1" d="M253.7 116.2 L255 118.9 L258 119.3 L255.8 121.4 L256.4 124.4 L253.7 122.9 L251 124.4 L251.6 121.4 L249.4 119.3 L252.4 118.9Z" fill="#f56e20"/>
  <!-- pin -->
  <path d="M304.7 116.9 L307.8 120 L306.6 120.4 L305.2 123 L301.9 119.7 L304.4 118.2Z M303.4 121.4 L301 123.8" stroke="#333" stroke-width=".8" stroke-linejoin="round" stroke-linecap="round"/>
  <!-- big star outline -->
  <path d="M303.8 147.6 L305.7 151.5 L310 152.1 L306.9 155.1 L307.6 159.4 L303.8 157.4 L300 159.4 L300.7 155.1 L297.6 152.1 L301.9 151.5Z" stroke="#f56e20" stroke-width="1.05" stroke-linejoin="round"/>
  <!-- refresh -->
  <path d="M328.6 151.2 A5.2 5.2 0 1 0 329 155.4" stroke="#7d8383" stroke-width=".95" stroke-linecap="round"/>
  <path d="M326.6 151.3 H329.4 V148.5Z" fill="#7d8383" stroke="#7d8383" stroke-width=".9" stroke-linejoin="round"/>
</svg>

<!-- owl mascot -->
<svg id="owl" class="abs" style="left:920px;top:320px" width="260" height="260" viewBox="920 320 260 260">
<path d="M1092.0 452.0 C1092.0 452.0 1108.5 465.2 1115.8 471.9 C1123.1 478.5 1130.2 485.8 1135.7 491.9 C1141.2 498.0 1148.7 508.8 1148.7 508.8 C1148.7 508.8 1145.6 513.6 1144.9 517.8 C1144.2 521.9 1145.2 529.5 1144.7 533.7 C1144.2 537.9 1143.4 540.9 1141.7 543.2 C1140.0 545.5 1137.7 546.9 1134.7 547.3 C1131.7 547.6 1127.3 545.6 1123.8 545.3 C1120.3 545.0 1116.5 544.6 1113.8 545.7 C1111.1 546.8 1110.1 549.4 1107.8 551.7 C1105.5 554.0 1102.9 558.1 1099.9 559.6 C1096.9 561.1 1092.6 560.7 1089.9 560.6 C1087.2 560.5 1083.9 559.2 1083.9 559.2 C1083.9 559.2 1081.7 563.4 1079.9 564.6 C1078.1 565.8 1075.2 566.6 1073.0 566.4 C1070.8 566.2 1068.7 565.9 1066.5 563.2 C1064.3 560.5 1060.0 550.0 1060.0 550.0 C1060.0 550.0 1060.0 460.0 1060.0 460.0 C1060.0 460.0 1092.0 452.0 1092.0 452.0Z" fill="#13453f" stroke="#13453f" stroke-width="1.2"/>
<path d="M1090.0 450.5 C1090.0 450.5 1110.8 462.5 1119.8 468.9 C1128.8 475.3 1136.5 482.6 1143.7 488.9 C1150.9 495.2 1162.9 506.8 1162.9 506.8 C1162.9 506.8 1163.6 512.5 1163.3 516.5 C1163.0 520.5 1161.1 530.6 1161.1 530.6 C1161.1 530.6 1157.8 523.4 1155.7 519.8 C1153.6 516.2 1152.0 513.5 1148.7 508.8 C1145.4 504.2 1141.2 498.0 1135.7 491.9 C1130.2 485.8 1122.4 477.7 1115.8 471.9 C1109.2 466.1 1096.0 457.0 1096.0 457.0 C1096.0 457.0 1090.0 450.5 1090.0 450.5Z" fill="#1f645c"/>
<path d="M957.0 445.3 C957.0 445.3 952.2 448.4 950.0 450.0 C947.8 451.6 946.1 453.4 944.0 455.2 C941.9 457.0 939.2 459.1 937.5 460.8 C935.8 462.5 934.5 464.0 933.6 465.6 C932.7 467.2 932.0 468.7 932.0 470.4 C932.0 472.1 932.6 474.1 933.4 475.8 C934.2 477.5 935.4 479.2 936.6 480.8 C937.8 482.4 938.4 483.4 940.4 485.4 C942.4 487.4 945.1 490.0 948.7 492.8 C952.3 495.6 962.0 502.0 962.0 502.0 C962.0 502.0 966.0 470.0 966.0 470.0 C966.0 470.0 957.0 445.3 957.0 445.3Z" fill="#cfcbc5"/>
<path d="M962.0 500.5 C962.0 500.5 950.7 500.4 946.5 501.2 C942.3 502.0 936.6 505.3 936.6 505.3 C936.6 505.3 944.3 510.9 948.7 512.4 C953.1 513.9 963.0 514.5 963.0 514.5 C963.0 514.5 962.0 500.5 962.0 500.5Z" fill="#cfcbc5"/>
<path d="M963.0 513.8 C963.0 513.8 950.7 515.4 946.5 517.8 C942.3 520.2 937.7 528.0 937.7 528.0 C937.7 528.0 947.8 528.6 953.0 527.4 C958.2 526.1 969.0 520.5 969.0 520.5 C969.0 520.5 963.0 513.8 963.0 513.8Z" fill="#cfcbc5"/>
<path d="M962.0 436.0 C954.9 439.0 958.1 445.5 957.5 452.0 C956.9 458.5 957.9 468.0 958.2 475.0 C958.5 482.0 958.4 487.3 959.5 494.0 C960.6 500.7 962.9 509.7 964.9 515.4 C966.9 521.1 968.2 523.6 971.3 528.3 C974.3 533.0 979.6 539.5 983.2 543.4 C986.8 547.3 988.5 549.8 993.0 551.5 C997.5 553.2 1002.2 553.4 1010.0 553.8 C1017.8 554.2 1031.3 553.8 1040.0 553.8 C1048.7 553.8 1056.5 554.5 1062.0 553.5 C1067.5 552.5 1069.8 551.8 1073.0 548.0 C1076.2 544.2 1079.2 539.0 1081.0 531.0 C1082.8 523.0 1083.8 510.2 1084.0 500.0 C1084.2 489.8 1083.5 478.7 1082.0 470.0 C1080.5 461.3 1081.2 453.3 1075.0 448.0 C1068.8 442.7 1057.5 440.3 1045.0 438.0 C1032.5 435.7 1013.8 434.3 1000.0 434.0 C986.2 433.7 969.1 433.0 962.0 436.0Z" fill="#ebe9e6"/>
<path d="M990.4 550 C988.3 553 987.7 557 987.7 560 C987.7 564.5 989.9 566.8 993.4 566.8 H1010.4 C1013.9 566.8 1016.1 564.5 1016.1 560 C1016.1 557 1015.5 553 1013.4 550Z" fill="#edebe8"/>
<ellipse cx="991.7" cy="564.3" rx="1.7" ry="2.3" fill="#8d8986"/>
<ellipse cx="1001.9" cy="564.3" rx="1.7" ry="2.3" fill="#8d8986"/>
<ellipse cx="1012.1" cy="564.3" rx="1.7" ry="2.3" fill="#8d8986"/>
<path d="M1042.5 550 C1040.4 553 1039.8 557 1039.8 560 C1039.8 564.5 1042.0 566.8 1045.5 566.8 H1062.5 C1066.0 566.8 1068.2 564.5 1068.2 560 C1068.2 557 1067.6 553 1065.5 550Z" fill="#edebe8"/>
<ellipse cx="1043.8" cy="564.3" rx="1.7" ry="2.3" fill="#8d8986"/>
<ellipse cx="1054.0" cy="564.3" rx="1.7" ry="2.3" fill="#8d8986"/>
<ellipse cx="1064.2" cy="564.3" rx="1.7" ry="2.3" fill="#8d8986"/>
<path d="M1067.0 457.5 C1068.4 454.0 1069.8 454.6 1073.0 454.0 C1076.2 453.4 1082.2 453.3 1086.0 453.8 C1089.8 454.3 1091.9 454.2 1096.0 457.2 C1100.1 460.2 1107.8 467.8 1110.8 471.9 C1113.8 475.9 1114.8 477.5 1114.0 481.5 C1113.2 485.5 1110.1 491.1 1105.8 495.8 C1101.5 500.5 1087.9 509.8 1087.9 509.8 C1087.9 509.8 1096.3 509.9 1099.9 510.6 C1103.5 511.3 1109.4 514.2 1109.4 514.2 C1109.4 514.2 1103.2 519.3 1099.9 520.9 C1096.7 522.5 1089.9 523.7 1089.9 523.7 C1089.9 523.7 1097.0 526.5 1099.9 528.7 C1102.9 530.9 1107.6 536.9 1107.6 536.9 C1107.6 536.9 1100.5 537.7 1095.9 536.9 C1091.3 536.1 1084.4 534.5 1079.9 531.9 C1075.4 529.2 1071.4 526.3 1069.0 521.0 C1066.6 515.7 1066.2 507.7 1065.5 500.0 C1064.8 492.3 1064.5 482.1 1064.8 475.0 C1065.0 467.9 1065.6 461.0 1067.0 457.5Z" fill="#cfcbc5"/>
<path d="M955.0 441.0 C955.4 439.2 956.9 435.4 958.4 434.6 C959.9 433.9 962.2 435.4 964.0 436.5 C965.8 437.6 969.0 439.4 969.2 441.0 C969.4 442.6 967.2 445.6 965.0 446.4 C962.8 447.2 957.5 446.5 955.8 445.6 C954.1 444.7 954.6 442.8 955.0 441.0Z" fill="#1f645c"/>
<path d="M1068.3 455.0 C1068.3 455.0 1074.9 450.8 1078.0 448.5 C1081.1 446.2 1086.8 441.3 1086.8 441.3 C1086.8 441.3 1088.0 444.7 1089.5 445.5 C1091.0 446.3 1094.3 445.2 1095.5 446.0 C1096.7 446.8 1097.1 448.8 1096.6 450.0 C1096.1 451.2 1094.0 452.4 1092.5 453.5 C1091.0 454.6 1089.3 456.1 1087.8 456.4 C1086.3 456.6 1085.0 455.6 1083.5 455.0 C1082.0 454.4 1081.0 452.6 1078.5 452.6 C1076.0 452.6 1068.3 455.0 1068.3 455.0Z" fill="#1f645c"/>
<path d="M1021.0 338.8 C1011.9 338.3 1007.1 339.1 1000.0 341.0 C992.9 342.9 985.1 346.2 978.3 349.9 C971.5 353.6 964.0 356.9 959.1 363.3 C954.2 369.7 950.7 381.2 948.8 388.2 C946.9 395.2 947.3 400.2 947.6 405.4 C947.9 410.5 948.3 414.6 950.5 419.1 C952.7 423.6 956.4 429.4 960.7 432.4 C965.0 435.4 969.3 436.7 976.1 437.2 C982.9 437.7 994.2 435.7 1001.6 435.6 C1009.0 435.5 1014.3 435.2 1020.7 436.8 C1027.1 438.4 1034.2 442.9 1040.0 445.0 C1045.8 447.1 1050.8 448.2 1055.5 449.6 C1060.2 451.0 1063.2 455.1 1068.3 453.6 C1073.4 452.2 1082.1 445.6 1086.2 440.9 C1090.3 436.2 1091.3 432.1 1092.8 425.5 C1094.2 418.9 1095.8 409.7 1094.9 401.6 C1094.0 393.5 1091.0 383.9 1087.5 376.7 C1084.0 369.5 1079.4 363.9 1074.0 358.5 C1068.6 353.1 1063.7 347.4 1054.9 344.1 C1046.1 340.8 1030.2 339.3 1021.0 338.8Z" fill="#ebe9e6"/>
<circle cx="989" cy="399" r="37.3" fill="#fff"/><circle cx="1054.6" cy="410.3" r="37.6" fill="#fff"/>
<path d="M985 425 L989 436.4 Q1005 434.6 1021 435.9 Q1035 440 1047 447.2 L1052 425Z" fill="#fff"/>
<path d="M1003 360 L1020.8 383.5 L1023 394.2 L1031 385 L1044 373 L1046 355 L1010 350Z" fill="#ebe9e6"/>
<ellipse cx="986" cy="398.3" rx="20.4" ry="25.4" fill="#fff"/>
<ellipse cx="1057.2" cy="410.8" rx="20.6" ry="25.1" fill="#fff"/>
<ellipse cx="982.5" cy="393" rx="13.6" ry="18.2" transform="rotate(6 982.5 393)" fill="#000"/>
<path d="M976.4 378.3 L983.3 373.6 L983.1 379 L982 383.6Z" fill="#fff"/>
<ellipse cx="1053.9" cy="405.8" rx="13.6" ry="18.2" transform="rotate(6 1053.9 405.8)" fill="#000"/>
<path d="M1047.6 391.6 L1055 386.4 L1054.9 392 L1053.8 396.4Z" fill="#fff"/>
<ellipse cx="986" cy="398.3" rx="20.4" ry="25.4" fill="none" stroke="#cbc7bf" stroke-width="3.4"/>
<ellipse cx="1057.2" cy="410.8" rx="20.6" ry="25.1" fill="none" stroke="#cbc7bf" stroke-width="3.4"/>
<path d="M960.6 331.0 C960.6 331.0 962.3 337.1 963.4 339.4 C964.5 341.7 965.7 343.2 967.3 345.0 C968.9 346.8 970.9 348.6 972.9 350.0 C974.9 351.4 976.9 352.3 979.5 353.1 C982.1 353.9 985.5 354.2 988.5 354.8 C991.5 355.4 994.8 355.7 997.4 356.7 C1000.0 357.7 1001.9 359.0 1004.1 360.6 C1006.3 362.2 1008.8 364.0 1010.8 366.2 C1012.8 368.4 1014.7 371.1 1016.4 374.0 C1018.1 376.9 1020.8 383.7 1020.8 383.7 C1020.8 383.7 1016.5 379.5 1014.1 377.3 C1011.7 375.1 1008.7 372.4 1006.3 370.6 C1003.9 368.8 1002.0 367.8 999.6 366.7 C997.2 365.6 994.6 364.6 991.8 363.9 C989.0 363.2 985.7 363.3 982.9 362.6 C980.1 361.9 977.5 360.8 975.1 359.5 C972.7 358.2 970.5 356.9 968.4 355.0 C966.3 353.1 964.2 350.7 962.8 348.3 C961.4 345.9 960.4 343.4 960.0 340.5 C959.6 337.6 960.6 331.0 960.6 331.0Z" fill="#807c79"/>
<path d="M1030.6 385.2 C1030.6 385.2 1035.6 379.6 1038.4 377.3 C1041.2 375.0 1044.0 372.6 1047.3 371.1 C1050.6 369.6 1054.8 368.4 1058.5 368.1 C1062.2 367.8 1066.4 369.1 1069.7 369.4 C1073.0 369.7 1075.6 370.2 1078.6 370.0 C1081.6 369.8 1084.5 369.3 1087.5 368.3 C1090.5 367.3 1094.1 365.4 1096.5 363.9 C1098.9 362.4 1100.6 360.7 1102.0 359.4 C1103.4 358.1 1104.9 355.9 1104.9 355.9 C1104.9 355.9 1102.7 362.3 1100.9 365.0 C1099.1 367.7 1096.8 370.1 1094.2 372.2 C1091.6 374.2 1088.3 376.3 1085.3 377.3 C1082.3 378.3 1079.4 378.5 1076.4 378.4 C1073.4 378.2 1070.4 376.9 1067.4 376.4 C1064.4 375.9 1061.7 375.2 1058.5 375.3 C1055.3 375.4 1051.6 375.9 1048.4 376.7 C1045.2 377.5 1042.5 378.7 1039.5 380.1 C1036.5 381.5 1030.6 385.2 1030.6 385.2Z" fill="#807c79"/>
<path d="M1006.5 424.2 C1006.5 424.2 1008.8 428.5 1011.0 430.0 C1013.2 431.5 1017.0 433.0 1019.5 433.0 C1022.0 433.0 1024.5 431.5 1026.0 430.0 C1027.5 428.5 1028.6 423.8 1028.6 423.8 C1028.6 423.8 1017.0 422.0 1017.0 422.0 C1017.0 422.0 1006.5 424.2 1006.5 424.2Z" fill="#c97058"/>
<path d="M1000.1 426.7 C1000.1 426.7 1004.6 417.2 1006.7 414.0 C1008.9 410.8 1010.7 409.1 1013.0 407.5 C1015.3 405.9 1018.1 404.6 1020.7 404.5 C1023.3 404.4 1026.5 405.1 1028.5 406.8 C1030.5 408.5 1032.9 411.9 1032.9 414.7 C1032.9 417.5 1028.4 423.9 1028.4 423.9 C1028.4 423.9 1020.3 425.7 1016.9 425.6 C1013.5 425.5 1010.8 423.3 1008.0 423.5 C1005.2 423.7 1000.1 426.7 1000.1 426.7Z" fill="#ec957a"/>
<path d="M1005.4 346.1 L1008.6 347.0 L1011.8 346.1 L1008.6 349.5Z M1016.5 348.1 L1019.7 349.0 L1022.9 348.1 L1019.7 351.5Z M1028.0 350.1 L1031.2 351.0 L1034.4 350.1 L1031.2 353.5Z M1039.7 352.1 L1042.9 353.0 L1046.1 352.1 L1042.9 355.5Z M1050.8 354.1 L1054.0 355.0 L1057.2 354.1 L1054.0 357.5Z M1015.4 355.2 L1018.6 356.1 L1021.8 355.2 L1018.6 358.6Z M1026.7 357.2 L1029.9 358.1 L1033.1 357.2 L1029.9 360.6Z M1038.3 359.2 L1041.5 360.1 L1044.7 359.2 L1041.5 362.6Z M1023.8 364.3 L1028.5 365.8 L1033.2 364.3 L1028.5 369.7Z" fill="#d2cec7"/>
<path d="M975.8 460.2 L979.5 461.2 L983.2 460.2 L979.5 464.1Z M989.5 461.9 L993.2 462.9 L996.9 461.9 L993.2 465.8Z M1003.8 463.2 L1007.5 464.3 L1011.2 463.2 L1007.5 467.1Z M1017.5 464.7 L1021.2 465.7 L1024.9 464.7 L1021.2 468.6Z M1031.3 466.2 L1035.0 467.2 L1038.7 466.2 L1035.0 470.1Z M989.0 470.4 L992.7 471.5 L996.4 470.4 L992.7 474.3Z M1002.6 472.1 L1006.3 473.1 L1010.0 472.1 L1006.3 475.9Z M1016.5 473.6 L1020.2 474.6 L1023.9 473.6 L1020.2 477.4Z M999.9 480.7 L1005.6 482.4 L1011.4 480.7 L1005.6 486.9Z" fill="#d2cec7"/>
</svg>
</body>
</html>
